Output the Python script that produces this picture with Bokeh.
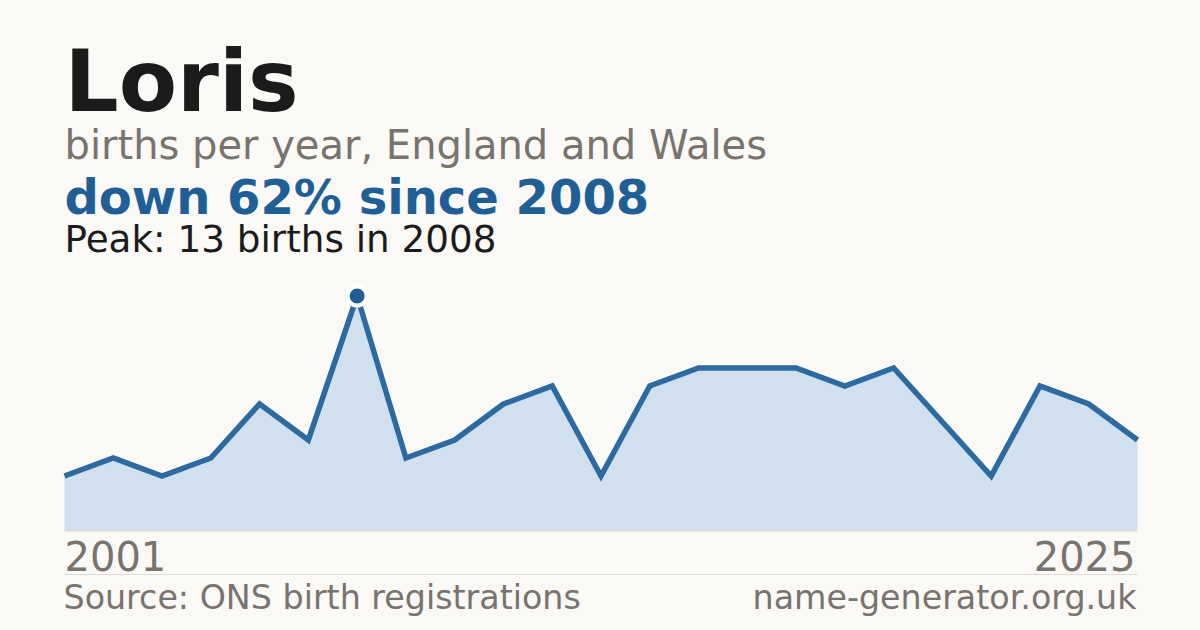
from bokeh.plotting import figure
from bokeh.models import Range1d, Label, BoxAnnotation
from bokeh.embed import file_html
from bokeh.resources import INLINE

# ---------------- data ----------------
name = "Loris"
subtitle = "births per year, England and Wales"
years = [2001, 2003, 2004, 2005, 2006, 2007, 2008, 2009, 2010, 2011, 2012,
         2013, 2014, 2015, 2016, 2017, 2018, 2020, 2021, 2022, 2023, 2024, 2025]
births = [3, 4, 3, 4, 7, 5, 13, 4, 5, 7, 8, 3, 8, 9, 9, 9, 8, 9, 6, 3, 8, 7, 5]
source_text = "Source: ONS birth registrations"
site_text = "name-generator.org.uk"

# ---------------- derived text ----------------
peak_val = max(births)
peak_i = births.index(peak_val)
peak_year = years[peak_i]
change = round((peak_val - births[-1]) / peak_val * 100)
headline = f"down {change}% since {peak_year}"
peak_text = f"Peak: {peak_val} births in {peak_year}"

# ---------------- layout ----------------
W, H = 1200, 630
LEFT, RIGHT = 64, 1137          # chart left / right edge (px)
BASE = 100.5                    # zero line, px from bottom
PX_PER_UNIT = 18.0
n = len(births)
dx = (RIGHT - LEFT) / (n - 1)
xs = list(range(n))

BG = "#faf9f5"
DARK = "#1b1b1b"
GRAY = "#78736d"
BLUE = "#1f5f96"
FONT = "DejaVu Sans"
K = 0.36   # baseline correction (fraction of font size)

p = figure(
    width=W, height=H,
    x_range=Range1d(-LEFT / dx, (n - 1) + (W - RIGHT) / dx),
    y_range=Range1d(-BASE / PX_PER_UNIT, (H - BASE) / PX_PER_UNIT),
    x_axis_location=None, y_axis_location=None,
    toolbar_location=None, output_backend="svg",
    min_border=0, title=None,
)
p.grid.visible = False
p.outline_line_color = None
p.background_fill_color = BG
p.border_fill_color = BG

# area + line
p.varea(x=xs, y1=[0] * n, y2=births, fill_color="#d0e0ef")
p.line(x=xs, y=births, line_color="#2d6a9f", line_width=5.5, line_join="miter")
# baseline
p.add_layout(BoxAnnotation(left=0, right=n - 1, top=0, bottom=-1.5 / PX_PER_UNIT,
                           fill_color="#dcdad4", fill_alpha=1, line_color=None))
# peak marker
p.scatter(x=[xs[peak_i]], y=[peak_val], size=19, fill_color=BLUE,
          line_color="white", line_width=4)

# separator
p.add_layout(BoxAnnotation(left=LEFT, right=RIGHT, bottom=H - 574.5, top=H - 573.5,
                           left_units="screen", right_units="screen",
                           top_units="screen", bottom_units="screen",
                           fill_color="#dddbd6", fill_alpha=1, line_color=None))


def lab(text, x, baseline_px, size, color, bold=False, align="left"):
    y = H - baseline_px + K * size
    p.add_layout(Label(x=x, y=y, x_units="screen", y_units="screen", text=text,
                       text_font=FONT, text_font_size=f"{size}px", text_color=color,
                       text_font_style="bold" if bold else "normal",
                       text_align=align, text_baseline="alphabetic"))


lab(name, LEFT, 111.5, 85, DARK, bold=True)
lab(subtitle, LEFT, 158.5, 40, GRAY)
lab(headline, LEFT, 213.5, 48, BLUE, bold=True)
lab(peak_text, LEFT, 252, 37.3, DARK)
lab(str(years[0]), LEFT, 569.5, 40, GRAY)
lab(str(years[-1]), RIGHT - 2, 569.5, 40, GRAY, align="right")
lab(source_text, LEFT - 1, 609, 33.3, GRAY)
lab(site_text, RIGHT - 1, 609, 33.3, GRAY, align="right")

open("out.html", "w").write(file_html(p, INLINE))
